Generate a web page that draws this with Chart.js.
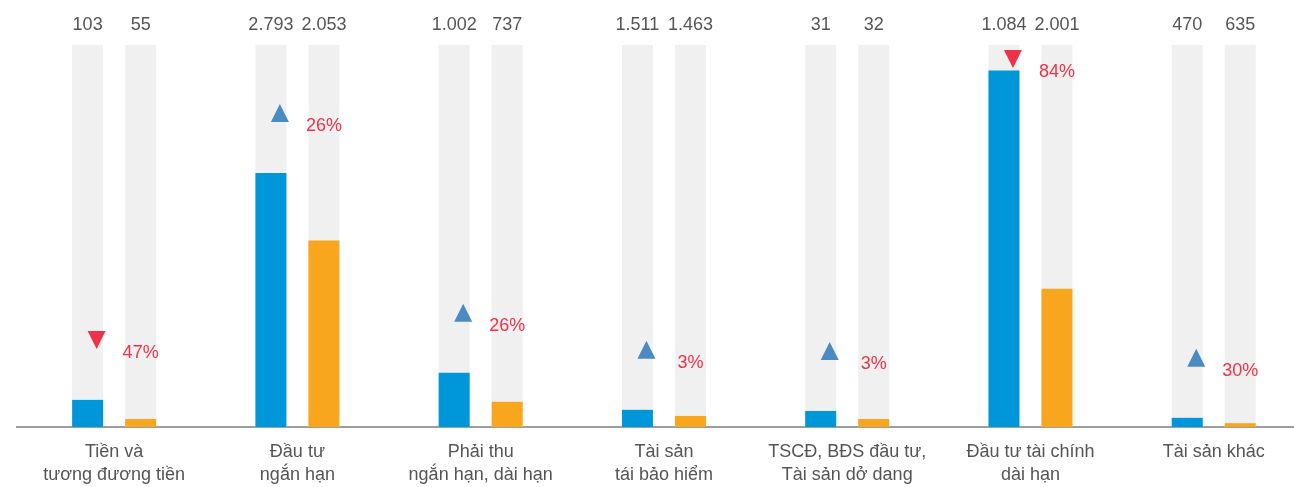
<!DOCTYPE html>
<html lang="vi">
<head>
<meta charset="utf-8">
<title>Cơ cấu tài sản</title>
<script src="https://cdn.jsdelivr.net/npm/chart.js@4.4.1/dist/chart.umd.min.js"></script>
<style>
  html, body { margin: 0; padding: 0; background: #ffffff; }
  #wrap { width: 1294px; height: 487px; }
</style>
</head>
<body>
<div id="wrap"><canvas id="chart" width="1294" height="487"></canvas></div>
<script>
// Asset groups (x-axis categories, one line per array entry)
const categories = [
  ['Tiền và', 'tương đương tiền'],
  ['Đầu tư', 'ngắn hạn'],
  ['Phải thu', 'ngắn hạn, dài hạn'],
  ['Tài sản', 'tái bảo hiểm'],
  ['TSCĐ, BĐS đầu tư,', 'Tài sản dở dang'],
  ['Đầu tư tài chính', 'dài hạn'],
  ['Tài sản khác']
];

// Bar heights, as a share of the full column (0–100)
const sharePrev = [7.1, 66.5, 14.2, 4.5, 4.2, 93.3, 2.4];
const shareCurr = [2.1, 48.8, 6.6, 2.9, 2.1, 36.2, 1.0];

// Figures printed above each column
const amountPrev = [103, 2793, 1002, 1511, 31, 1084, 470];
const amountCurr = [55, 2053, 737, 1463, 32, 2001, 635];

// Change markers
const changePct = [47, 26, 26, 3, 3, 84, 30];
const changeDir = ['down', 'up', 'up', 'up', 'up', 'down', 'up'];

const TRACK_MAX = 100;

const BLUE = '#0096da';
const ORANGE = '#f8a61e';
const TRACK = '#f0f0f0';
const RED = '#ee3349';
const TRI_BLUE = '#4a8bc3';
const TEXT = '#555555';
const FONT = '"Liberation Sans", Arial, Helvetica, sans-serif';

const fmt = n => String(n).replace(/\B(?=(\d{3})+(?!\d))/g, '.');
const idx = categories.map((_, i) => i);
const points = arr => arr.map((v, i) => ({ x: i, y: v }));

// Amount labels, percentage changes and arrow markers
const annotations = {
  id: 'annotations',
  afterDatasetsDraw(chart) {
    const ctx = chart.ctx;
    const top = chart.chartArea.top;
    const prev = chart.getDatasetMeta(0).data;
    const curr = chart.getDatasetMeta(1).data;
    ctx.save();
    ctx.font = '18px ' + FONT;
    ctx.textAlign = 'center';
    ctx.textBaseline = 'middle';
    idx.forEach(i => {
      const a = prev[i], b = curr[i];
      ctx.fillStyle = TEXT;
      ctx.fillText(fmt(amountPrev[i]), a.x, top - 20);
      ctx.fillText(fmt(amountCurr[i]), b.x, top - 20);

      const textY = Math.max(Math.min(a.y, b.y) - 47, top + 27);
      ctx.fillStyle = RED;
      ctx.fillText(changePct[i] + '%', b.x, textY);

      const cx = a.x + 9, cy = textY - 13, w = 18, h = 18;
      ctx.beginPath();
      if (changeDir[i] === 'up') {
        ctx.moveTo(cx, cy - h / 2);
        ctx.lineTo(cx + w / 2, cy + h / 2);
        ctx.lineTo(cx - w / 2, cy + h / 2);
        ctx.fillStyle = TRI_BLUE;
      } else {
        ctx.moveTo(cx - w / 2, cy - h / 2);
        ctx.lineTo(cx + w / 2, cy - h / 2);
        ctx.lineTo(cx, cy + h / 2);
        ctx.fillStyle = RED;
      }
      ctx.closePath();
      ctx.fill();
    });
    ctx.restore();
  }
};

new Chart(document.getElementById('chart'), {
  type: 'bar',
  data: {
    datasets: [
      { data: points(sharePrev), backgroundColor: BLUE, stack: 'prev', order: 1 },
      { data: points(shareCurr), backgroundColor: ORANGE, stack: 'curr', order: 1 },
      { data: points(idx.map(() => TRACK_MAX)), backgroundColor: TRACK, stack: 'prev', order: 2 },
      { data: points(idx.map(() => TRACK_MAX)), backgroundColor: TRACK, stack: 'curr', order: 2 }
    ]
  },
  options: {
    responsive: false,
    animation: false,
    events: [],
    categoryPercentage: 0.5785,
    barPercentage: 0.585,
    layout: { padding: { top: 45, left: 17, right: 0, bottom: -14 } },
    plugins: { legend: { display: false }, tooltip: { enabled: false } },
    scales: {
      x: {
        type: 'linear',
        offset: false,
        min: -0.53,
        max: 6.438,
        afterBuildTicks(scale) { scale.ticks = idx.map(v => ({ value: v })); },
        grid: { display: false, drawTicks: false },
        border: { display: true, color: '#9d9d9d', width: 2 },
        ticks: {
          autoSkip: false,
          maxRotation: 0,
          padding: 14,
          color: TEXT,
          font: { family: FONT, size: 18, lineHeight: '23px' },
          callback: v => categories[v]
        }
      },
      y: {
        display: false,
        stacked: false,
        min: 0,
        max: TRACK_MAX
      }
    }
  },
  plugins: [annotations]
});
</script>
</body>
</html>
